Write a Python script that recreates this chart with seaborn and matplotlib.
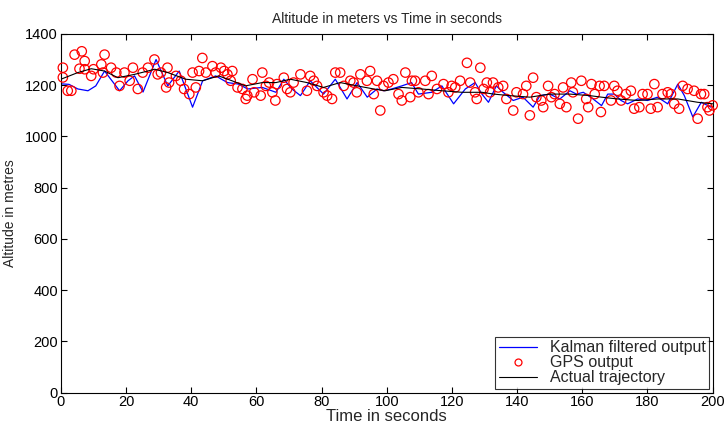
import matplotlib
matplotlib.use("Agg")
import matplotlib.pyplot as plt
from matplotlib.lines import Line2D
import seaborn as sns
import pandas as pd

# ---- data ----
kalman_t = [0, 2.5, 5.2, 8.3, 10.7, 13.4, 18, 20.6, 22.6, 25.2, 29.2, 32.8, 36.3, 40.4, 43.5, 47.5,
            51.1, 54.5, 57.3, 61.8, 66, 68.4, 70.9, 73.5, 76.5, 80.6, 84.2, 87.8, 90.9, 94, 97,
            99.1, 101.5, 104.6, 107.6, 109.7, 113.8, 116.9, 120.5, 124.1, 127.1, 129.2, 131.2,
            133.6, 135.7, 138.8, 141.8, 144.9, 147, 150, 153.1, 156.2, 158.2, 160.3, 163.3, 165.9,
            167.8, 169.8, 171.9, 173.9, 177, 180, 183.1, 186.2, 189.3, 191.3, 193.9, 196.5, 199.5]
kalman_v = [1205, 1203, 1185, 1178, 1197, 1255, 1178, 1217, 1236, 1173, 1300, 1197, 1255, 1114, 1217, 1236,
            1210, 1204, 1185, 1191, 1172, 1223, 1185, 1159, 1217, 1165, 1223, 1146, 1210, 1153, 1185,
            1178, 1185, 1197, 1210, 1165, 1172, 1197, 1127, 1185, 1210, 1165, 1133,
            1197, 1172, 1140, 1153, 1114, 1159, 1165, 1146, 1178, 1165, 1172, 1146, 1120,
            1165, 1165, 1140, 1127, 1146, 1140, 1153, 1127, 1204, 1159, 1076, 1133, 1114]

actual_t = [0, 5.2, 9.3, 13.4, 17.5, 22.6, 28.8, 32.8, 38.3, 43.5, 48.4, 52.5, 56.6, 61.8, 66,
            70.4, 75.5, 80.6, 85.7, 90.9, 96, 99.5, 104.6, 110.7, 116.9, 123.1, 129.2, 132.8,
            137.7, 143.9, 150, 156.2, 162.3, 165.9, 170.8, 177, 183.1, 189.3, 195.4, 200]
actual_v = [1223, 1249, 1264, 1255, 1229, 1242, 1262, 1249, 1223, 1217, 1236, 1217, 1197, 1210, 1210,
            1223, 1210, 1191, 1210, 1197, 1185, 1178, 1191, 1185, 1178, 1172, 1172, 1165,
            1159, 1153, 1165, 1165, 1159, 1153, 1146, 1140, 1146, 1146, 1133, 1127]

gps_t = [0.6, 0.6, 2.1, 3.2, 4.2, 5.7, 6.4, 7.3, 7.3, 9.3, 10.0, 12.4, 12.9, 13.4, 15.4, 17.0, 18.0,
         19.5, 21.1, 22.1, 23.6, 25.1, 26.7, 28.7, 29.7, 30.7, 32.3,
         32.7, 33.2, 35.3, 36.8, 37.8, 39.4, 40.4, 41.4, 42.4, 43.4, 44.5, 46.5, 47.5, 49.1, 50.1,
         51.1, 52.1, 52.6, 54.2, 55.7, 56.7, 57.2, 58.8, 59.3, 61.3, 61.8, 62.9, 63.9, 64.9,
         65.8, 66.3, 68.4, 69.4, 70.4, 71.4, 73.5, 75.5, 76.5, 77.6, 78.6, 80.6, 81.7, 83.2, 84.2,
         85.7, 86.8, 88.8, 89.8, 90.8, 91.9, 93.9, 94.9, 96.0, 97.0, 98.0, 99.0,
         100.5, 102.0, 103.6, 104.6, 105.7, 107.2, 107.7, 108.7, 109.7, 111.8, 112.8, 113.8, 115.4,
         117.4, 118.9, 119.9, 121.0, 122.5, 124.6, 125.6, 127.1, 127.6, 128.7, 129.7, 130.7, 131.7,
         132.6, 134.2, 135.7, 136.7, 138.8, 139.8, 141.8, 142.8, 143.9, 144.9, 145.9, 147.4, 148.0,
         149.5, 150.5, 151.5, 153.1, 154.1, 155.1, 156.6, 157.1, 158.7, 159.7, 161.2, 161.8, 162.8,
         163.8, 165.3,
         165.7, 166.7, 168.8, 169.8, 170.8, 171.9, 173.4, 174.9, 175.9, 177.5, 178.5, 180.0, 181.0,
         182.1, 183.1, 184.6, 186.2, 187.2, 188.2, 189.7, 190.8, 192.3, 194.3, 195.4, 196.4, 197.4,
         198.4, 199.0, 200.0]
gps_v = [1268, 1230, 1178, 1178, 1319, 1264, 1332, 1294, 1262, 1236, 1262, 1281, 1249, 1319, 1268, 1249, 1197,
         1249, 1217, 1268, 1185, 1249, 1268, 1300, 1242, 1249, 1191,
         1268, 1210, 1236, 1217, 1185, 1165, 1249, 1191, 1255, 1306, 1249, 1274, 1249, 1268, 1255,
         1242, 1217, 1255, 1191, 1185, 1146, 1159, 1223, 1172, 1159, 1249, 1197, 1210, 1172,
         1140, 1204, 1229, 1185, 1172, 1210, 1242, 1178, 1236, 1217, 1197, 1172, 1159, 1146, 1249,
         1249, 1197, 1217, 1210, 1172, 1242, 1217, 1255, 1165, 1217, 1101, 1197,
         1210, 1223, 1165, 1140, 1249, 1153, 1217, 1217, 1172, 1217, 1165, 1236, 1185,
         1204, 1172, 1197, 1191, 1217, 1287, 1210, 1172, 1146, 1268, 1185, 1210, 1172,
         1210, 1191, 1197, 1146, 1101, 1172, 1165, 1197, 1082, 1229, 1153, 1140, 1114,
         1197, 1153, 1165, 1127, 1191, 1114, 1210, 1172, 1069, 1217, 1146, 1114, 1204,
         1165, 1197,
         1095, 1197, 1140, 1197, 1178, 1140, 1165, 1178, 1108, 1114, 1165, 1165, 1108,
         1204, 1114, 1165, 1172, 1165, 1127, 1108, 1197, 1185, 1178, 1069, 1165, 1165,
         1114, 1101, 1121]

x_ticks = [0, 20, 40, 60, 80, 100, 120, 140, 160, 180, 200]
y_ticks = [0, 200, 400, 600, 800, 1000, 1200, 1400]

title = "Altitude in meters vs Time in seconds"
xlabel = "Time in seconds"
ylabel = "Altitude in metres"
labels = ["Kalman filtered output", "GPS output", "Actual trajectory"]

df_k = pd.DataFrame({"t": kalman_t, "v": kalman_v})
df_a = pd.DataFrame({"t": actual_t, "v": actual_v})
df_g = pd.DataFrame({"t": gps_t, "v": gps_v})

sns.set_style("ticks")
plt.rcParams["font.family"] = ["Liberation Sans", "DejaVu Sans"]
plt.rcParams["xtick.direction"] = "in"
plt.rcParams["ytick.direction"] = "in"

fig = plt.figure(figsize=(7.25, 4.29), dpi=100)
ax = fig.add_axes([0.084, 0.085, 0.899, 0.836])

sns.lineplot(data=df_k, x="t", y="v", ax=ax, color="#0000ff", linewidth=0.9,
             estimator=None, sort=False)
sns.scatterplot(data=df_g, x="t", y="v", ax=ax, marker="o", s=46,
                facecolor="none", edgecolor="#ff0000", linewidth=0.9, clip_on=False, zorder=3)
sns.lineplot(data=df_a, x="t", y="v", ax=ax, color="black", linewidth=0.8,
             estimator=None, sort=False, zorder=4)

ax.set_xlim(0, 200)
ax.set_ylim(0, 1400)
ax.set_xticks(x_ticks)
ax.set_yticks(y_ticks)
ax.tick_params(axis="both", which="both", direction="in", length=4, width=0.8,
               top=True, right=True, labelsize=10.5, pad=2, colors="black")
for s in ax.spines.values():
    s.set_linewidth(0.8)
    s.set_color("black")

ax.set_title(title, fontsize=10, pad=8)
ax.set_xlabel(xlabel, fontsize=12, labelpad=0)
ax.set_ylabel(ylabel, fontsize=10, labelpad=6)

handles = [
    Line2D([], [], color="#0000ff", linewidth=0.9),
    Line2D([], [], linestyle="", marker="o", markersize=5, markerfacecolor="none",
           markeredgecolor="#ff0000", markeredgewidth=0.9),
    Line2D([], [], color="black", linewidth=0.8),
]
leg = ax.legend(handles, labels, loc="lower right", fontsize=11.5, frameon=True,
                fancybox=False, edgecolor="black", borderaxespad=0.25, handlelength=2.4,
                borderpad=0.2, labelspacing=0.0, handletextpad=0.8)
leg.get_frame().set_linewidth(0.8)

fig.savefig("out.png", dpi=100)
